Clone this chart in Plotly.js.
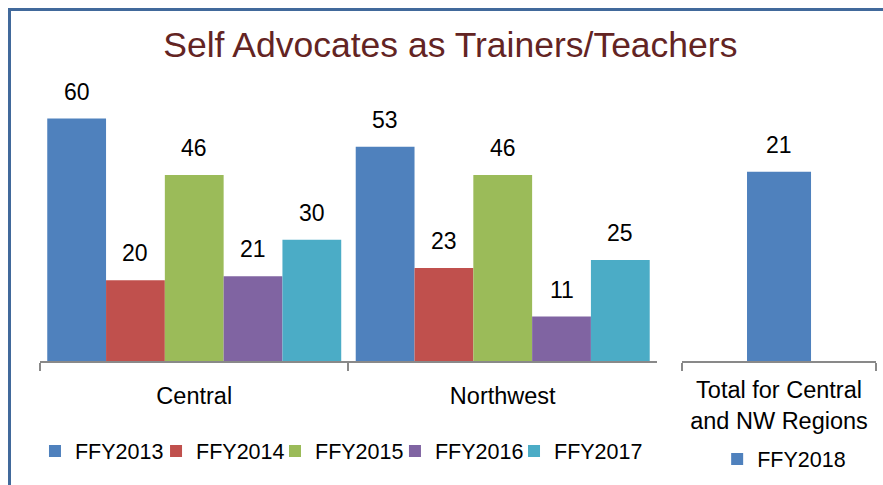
<!DOCTYPE html>
<html>
<head>
<meta charset="utf-8">
<script src="https://cdn.plot.ly/plotly-3.0.1.min.js"></script>
<style>
  html, body { margin: 0; padding: 0; background: #fff; overflow: hidden; }
  #wrap { position: relative; width: 883px; height: 485px; }
  #chart { position: absolute; left: 0; top: 0; width: 883px; height: 485px; }
  #frame { position: absolute; left: 8px; top: 8px; width: 1000px; height: 1000px;
           border-top: 3px solid #41699B; border-left: 3px solid #41699B; pointer-events: none; }
</style>
</head>
<body>
<div id="wrap">
  <div id="chart"></div>
  <div id="frame"></div>
</div>
<script>
// ---- data ----
var categories = ['Central', 'Northwest'];
var seriesNames = ['FFY2013', 'FFY2014', 'FFY2015', 'FFY2016', 'FFY2017'];
var ffy2013 = [60, 53];
var ffy2014 = [20, 23];
var ffy2015 = [46, 46];
var ffy2016 = [21, 11];
var ffy2017 = [30, 25];
var totalCategory = ['Total for Central<br>and NW Regions'];
var totalSeriesName = 'FFY2018';
var ffy2018 = [21];

// ---- style ----
var colors = ['#4F81BD', '#C0504D', '#9BBB59', '#8064A2', '#4BACC6'];
var font = '"Liberation Sans", Arial, sans-serif';
var bargap = 0.047;
var totalBarWidth = 0.33;
var legendX = [-0.006, 0.1388, 0.2811, 0.4246, 0.567];
var legendIds = ['legend', 'legend2', 'legend3', 'legend4', 'legend5'];

var seriesValues = [ffy2013, ffy2014, ffy2015, ffy2016, ffy2017];
var traces = [];
var annotations = [];
var n = seriesValues.length;
var w = (1 - bargap) / n;
var layoutLegends = {};
seriesValues.forEach(function (vals, i) {
  traces.push({
    type: 'bar', name: seriesNames[i], x: categories, y: vals,
    xaxis: 'x', yaxis: 'y', marker: { color: colors[i] }, hoverinfo: 'none',
    legend: legendIds[i]
  });
  layoutLegends[legendIds[i]] = {
    orientation: 'h', x: legendX[i], xanchor: 'left', y: -0.305, yanchor: 'middle',
    font: { family: font, size: 21.5, color: '#000' }, bgcolor: 'rgba(0,0,0,0)'
  };
  vals.forEach(function (v, j) {
    annotations.push({
      xref: 'x', yref: 'y', x: j + (i - (n - 1) / 2) * w, y: v, yshift: 27,
      text: String(v), showarrow: false, yanchor: 'middle',
      font: { family: font, size: 23, color: '#000' }
    });
  });
});
traces.push({
  type: 'bar', name: totalSeriesName, x: totalCategory, y: ffy2018, width: totalBarWidth,
  xaxis: 'x2', yaxis: 'y2', marker: { color: colors[0] }, legend: 'legend6', hoverinfo: 'none'
});
layoutLegends.legend6 = {
  orientation: 'h', x: 0.81, xanchor: 'left', y: -0.332, yanchor: 'middle',
  font: { family: font, size: 21.5, color: '#000' }, bgcolor: 'rgba(0,0,0,0)'
};
ffy2018.forEach(function (v, j) {
  annotations.push({
    xref: 'x2', yref: 'y2', x: j, y: v, yshift: 27,
    text: String(v), showarrow: false, yanchor: 'middle',
    font: { family: font, size: 23, color: '#000' }
  });
});

var xaxisCommon = {
  type: 'category', showline: true, linecolor: '#898989', linewidth: 2,
  ticks: 'outside', tickson: 'boundaries', ticklen: 8, tickwidth: 2, tickcolor: '#898989',
  showgrid: false, zeroline: false, fixedrange: true,
  tickfont: { family: font, size: 23.5, color: '#000' }
};

var layout = {
  width: 883, height: 485,
  margin: { l: 40, r: 7, t: 70, b: 123 },
  paper_bgcolor: '#fff', plot_bgcolor: 'rgba(0,0,0,0)',
  font: { family: font, color: '#000' },
  barmode: 'group', bargap: bargap,
  title: {
    text: 'Self Advocates as Trainers/Teachers',
    font: { family: font, size: 35.5, color: '#632423' },
    xref: 'container', x: 0.51, xanchor: 'center',
    yref: 'container', y: 1 - 45 / 485, yanchor: 'middle'
  },
  xaxis: Object.assign({}, xaxisCommon, { domain: [0, 0.738], anchor: 'y', ticklabelstandoff: 13 }),
  xaxis2: Object.assign({}, xaxisCommon, { domain: [0.768, 1], anchor: 'y2', ticklabelstandoff: 7 }),
  yaxis: { range: [0, 72], visible: false, fixedrange: true },
  yaxis2: { range: [0, 32.3], visible: false, fixedrange: true, anchor: 'x2' },
  showlegend: true,
  annotations: annotations
};
Object.assign(layout, layoutLegends);

Plotly.newPlot('chart', traces, layout, { displayModeBar: false, staticPlot: true });
</script>
</body>
</html>
